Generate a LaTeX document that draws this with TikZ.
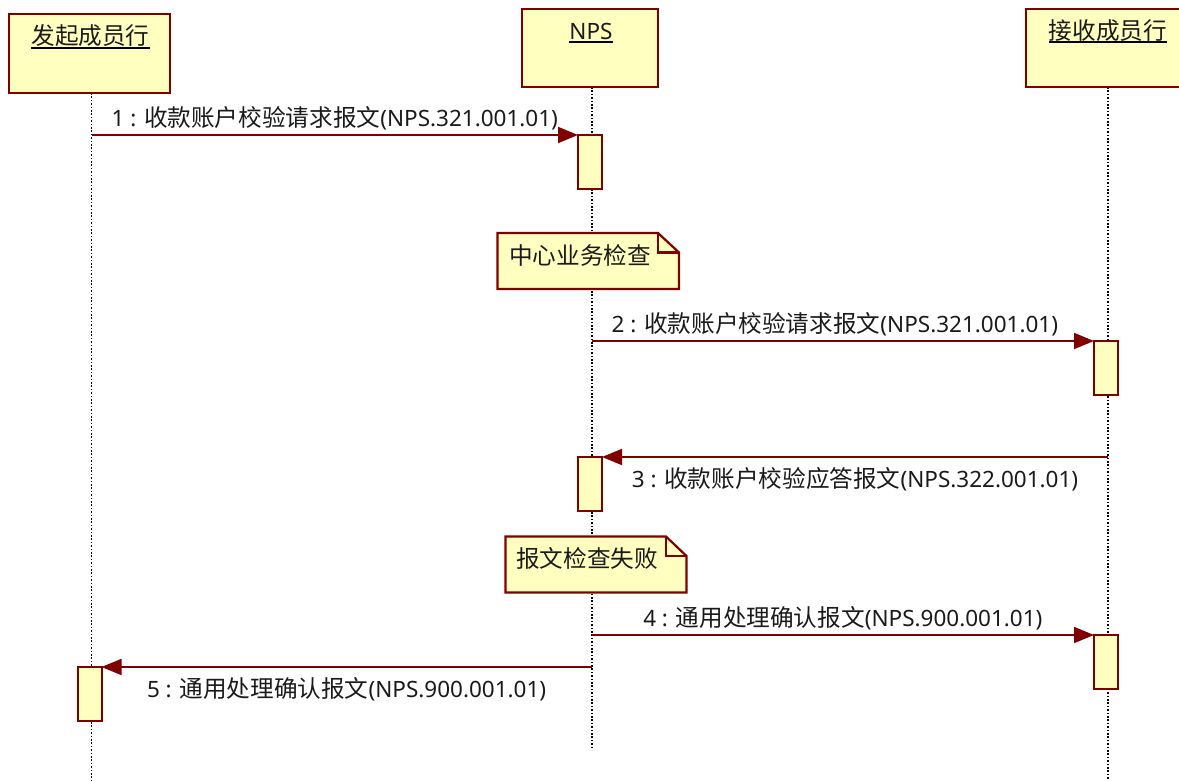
\documentclass[tikz,border=0pt]{standalone}
\usepackage{fontspec}
\setmainfont{Noto Sans}
\newfontfamily\cjk{Noto Sans CJK SC}[Scale=1.05]
\usetikzlibrary{arrows.meta}
\definecolor{umlred}{HTML}{800000}
\definecolor{umlfill}{HTML}{FFFFC0}
\definecolor{txt}{HTML}{1A1A1A}
\begin{document}
\begin{tikzpicture}[x=1pt,y=-1pt,
  every node/.style={inner sep=0pt, outer sep=0pt, text=txt, font=\fontsize{22.5}{26}\selectfont},
  headbox/.style={draw=umlred, fill=umlfill, line width=2.4pt},
  actbox/.style={draw=umlred, fill=umlfill, line width=2pt, rectangle, minimum width=24pt, minimum height=54pt, anchor=north},
  lifeline/.style={draw=black, line width=1.6pt, dash pattern=on 1.6pt off 1.8pt},
  notebox/.style={draw=umlred, fill=umlfill, line width=2.2pt, line join=miter},
  msg/.style={draw=umlred, line width=1.8pt, -{Triangle[length=20pt,width=16pt]}},
  uline/.style={draw=black, line width=2pt},
  lbl/.style={anchor=base}
]
\useasboundingbox (0,0) rectangle (1179,780);
\clip (0,0) rectangle (1179,780);

% lifelines
\draw[lifeline] (91.5,93) -- (91.5,780);
\draw[lifeline] (591.7,87) -- (591.7,750);
\draw[lifeline] (1108,87) -- (1108,780);

% head boxes
\draw[headbox] (9,14) rectangle (170,93);
\node[lbl] (t1) at (90.5,44) {\cjk 发起成员行};
\draw[uline] ([yshift=-3.5pt]t1.base west) -- ([yshift=-3.5pt]t1.base east);

\draw[headbox] (522,9) rectangle (658,87);
\node[lbl] (t2) at (591,39) {NPS};
\draw[uline] ([yshift=-3pt]t2.base west) -- ([yshift=-3pt]t2.base east);

\draw[headbox] (1026,9) rectangle (1192,87);
\node[lbl] (t3) at (1108,39) {\cjk 接收成员行};
\draw[uline] ([yshift=-3pt]t3.base west) -- ([yshift=-3pt]t3.base east);

% activation boxes
\node[actbox] (a1) at (590,135) {};
\node[actbox] (a2) at (1106,341) {};
\node[actbox] (a3) at (590,457) {};
\node[actbox] (a4) at (1106,635) {};
\node[actbox] (a5) at (89.5,667) {};

% message start points on lifelines
\coordinate (s1) at (91.5,135);
\coordinate (s2) at (591.7,341);
\coordinate (s3) at (1108,457);
\coordinate (s4) at (591.7,635);
\coordinate (s5) at (591.7,667);

\draw[msg] (s1) -- (a1.north west)
  node[lbl, pos=0.5, yshift=9pt] (m1) {1 : {\cjk 收款账户校验请求报文}(NPS.321.001.01)};
\draw[msg] (s2) -- (a2.north west)
  node[lbl, pos=0.5, xshift=-8pt, yshift=9pt] (m2) {2 : {\cjk 收款账户校验请求报文}(NPS.321.001.01)};
\draw[msg] (s3) -- (a3.north east)
  node[lbl, pos=0.5, yshift=-30pt] (m3) {3 : {\cjk 收款账户校验应答报文}(NPS.322.001.01)};
\draw[msg] (s4) -- (a4.north west)
  node[lbl, pos=0.5, yshift=9pt] (m4) {4 : {\cjk 通用处理确认报文}(NPS.900.001.01)};
\draw[msg] (s5) -- (a5.north east)
  node[lbl, pos=0.5, yshift=-30pt] (m5) {5 : {\cjk 通用处理确认报文}(NPS.900.001.01)};

% notes
\draw[notebox] (497.5,233) -- (658,233) -- (679,252.5) -- (679,289) -- (497.5,289) -- cycle;
\draw[notebox, fill=none] (658,233) -- (658,252.5) -- (679,252.5);
\node[lbl] (n1) at (580,264) {\cjk 中心业务检查};

\draw[notebox] (505.5,536.5) -- (666,536.5) -- (686.5,556) -- (686.5,592.5) -- (505.5,592.5) -- cycle;
\draw[notebox, fill=none] (666,536.5) -- (666,556) -- (686.5,556);
\node[lbl] (n2) at (587,567) {\cjk 报文检查失败};
\end{tikzpicture}
\end{document}
